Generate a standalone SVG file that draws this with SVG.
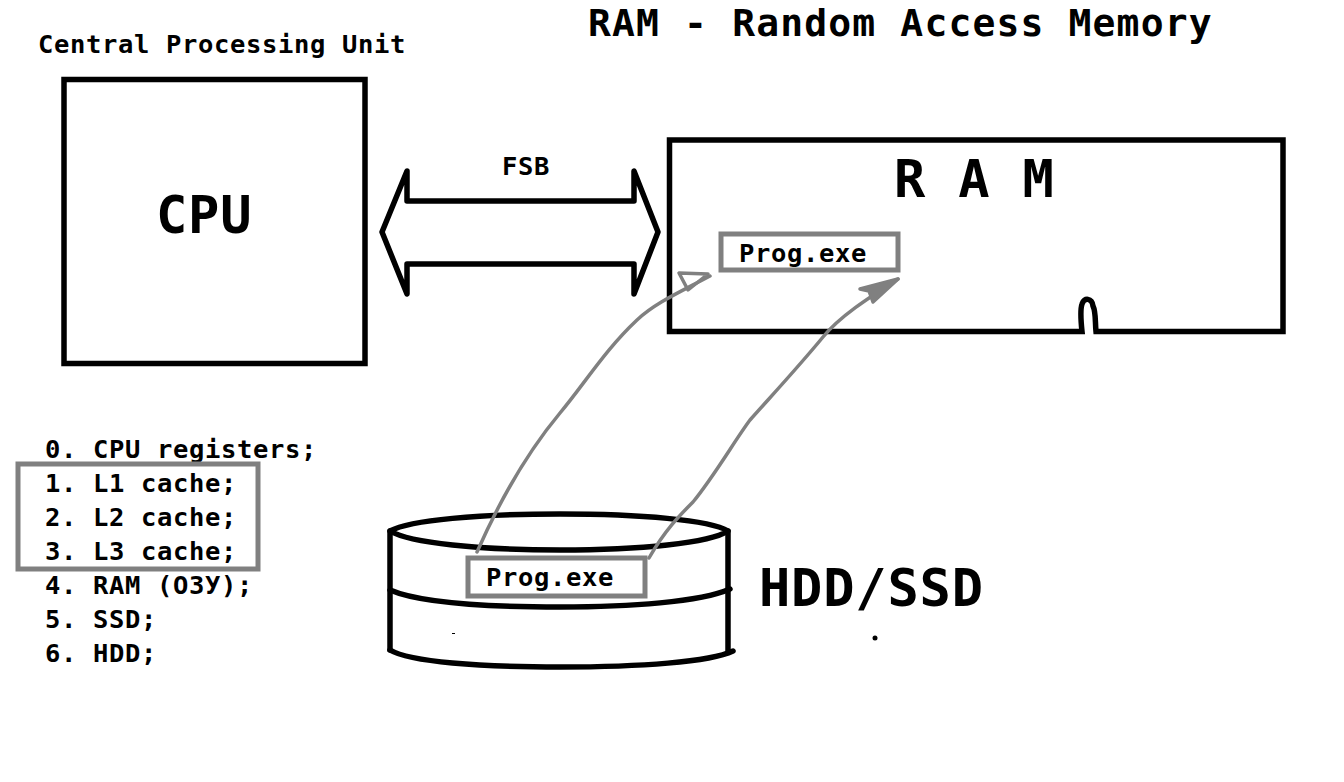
<svg xmlns="http://www.w3.org/2000/svg" width="1344" height="782" viewBox="0 0 1344 782">
<style>
text{font-family:"DejaVu Sans Mono","Liberation Mono",monospace;font-weight:700;fill:#000}
.s{font-size:25.5px;letter-spacing:.65px}
.b{font-size:52px;letter-spacing:.8px}
.t{font-size:38px;letter-spacing:1.15px}
.k{fill:none;stroke:#000;stroke-width:5.5;stroke-linejoin:round;stroke-linecap:round}
.g{fill:none;stroke:#808080;stroke-width:5}
.c{fill:none;stroke:#808080;stroke-width:3.5;stroke-linejoin:round;stroke-linecap:round}
.h{fill:#808080;stroke:#808080;stroke-width:3.5;stroke-linejoin:round}
</style>
<rect width="1344" height="782" fill="#fff"/>
<text id="title" class="t" x="588" y="36">RAM - Random Access Memory</text>
<text id="cpu-caption" class="s" x="38" y="52.5">Central Processing Unit</text>
<g id="cpu"><rect x="64" y="79.5" width="301" height="284" fill="none" stroke="#000" stroke-width="5.5"/><text class="b" x="156" y="233">CPU</text></g>
<g id="fsb">
<path class="k" d="M407 171L382 232L407 294V264H634V294L658 232L634 171V201H407Z"/>
<text class="s" x="502" y="175">FSB</text>
</g>
<g id="ram">
<path fill="none" stroke="#000" stroke-width="5.5" stroke-linejoin="miter" d="M669.500 140H1283V331.500H1096C1095 322 1096 312 1093 306C1092 298 1084 297 1082 304C1080 310 1081 322 1082 331.500H669.500Z"/>
<text class="b" x="894" y="197">R A M</text>
</g>
<g id="ram-prog"><rect class="g" x="721" y="234" width="177" height="36"/><text class="s" x="739" y="262">Prog.exe</text></g>
<g id="hdd">
<path class="k" d="M390 531C410 520 480 514 560 514C640 514 710 520 728 531C710 543 640 550 560 550C480 550 410 543 390 531Z"/>
<path class="k" d="M390 531V650M728 531V651"/>
<path class="k" d="M390 590C420 603 490 607 560 607C630 607 700 602 730 589"/>
<path class="k" d="M390 650C410 662 480 667 560 667C640 667 710 662 733 651"/>
<circle cx="875" cy="638" r="2.500" fill="#000"/>
<rect x="452" y="633" width="3" height="1" fill="#000"/>
</g>
<g id="hdd-prog"><rect class="g" x="468" y="558" width="177" height="38"/><text class="s" x="486" y="586">Prog.exe</text></g>
<text id="hdd-label" class="b" x="759" y="606">HDD/SSD</text>
<g id="connectors">
<path class="c" d="M477 552C500 500 525 455 560 413C585 383 605 350 637 320C655 303 680 292 710 276"/>
<path class="c" d="M679 273L708 274L688 290Z"/>
<path class="c" d="M649 558C665 530 680 515 693 502C715 475 735 440 750 420C775 392 800 365 823 337C840 316 870 297 898 279"/>
<path class="h" d="M860 289L898 279L873 302L869 291Z"/>
</g>
<g id="memory-list">
<text class="s" x="45" y="458">0. CPU registers;</text>
<text class="s" x="45" y="492">1. L1 cache;</text>
<text class="s" x="45" y="526">2. L2 cache;</text>
<text class="s" x="45" y="560">3. L3 cache;</text>
<text class="s" x="45" y="594">4. RAM (ОЗУ);</text>
<text class="s" x="45" y="628">5. SSD;</text>
<text class="s" x="45" y="662">6. HDD;</text>
<rect class="g" x="18" y="464" width="240" height="105"/>
</g>
</svg>
